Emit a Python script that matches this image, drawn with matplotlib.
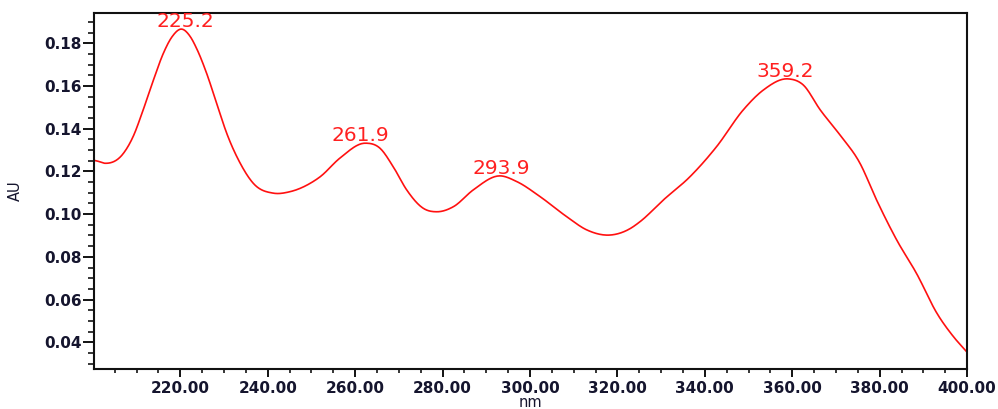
import numpy as np
import matplotlib
matplotlib.use("Agg")
import matplotlib.pyplot as plt
from matplotlib.ticker import MultipleLocator, FormatStrFormatter

# spectrum
wavelength = [200.2, 200.9, 202.8, 207.0, 209.2, 211.5, 213.8, 216.1, 218.1, 220.3,
              222.2, 223.8, 226.0, 228.3, 230.6, 233.7, 236.7, 241.3, 245.1, 249.7,
              252.0, 256.5, 262.3, 265.7, 268.7, 271.8, 275.6, 278.7, 282.5,
              287.0, 293.1, 297.0, 302.3, 308.4, 313.0, 318.3, 322.9, 325.2,
              330.5, 336.6, 342.7, 348.8, 353.4, 359.1, 362.5, 366.4, 370.9,
              375.5, 379.3, 383.9, 388.5, 393.1, 396.9, 399.9]
absorbance = [0.1252, 0.1249, 0.1238, 0.1285, 0.1363, 0.1488, 0.1625, 0.1752, 0.1830, 0.1866,
              0.1833, 0.1772, 0.1660, 0.1519, 0.1379, 0.1238, 0.1144, 0.1098, 0.1105, 0.1144,
              0.1175, 0.1262, 0.1332, 0.1308, 0.1222, 0.1113, 0.1027, 0.1011, 0.1035,
              0.1113, 0.1179, 0.1152, 0.1082, 0.0988, 0.0926, 0.0902, 0.0932, 0.0965,
              0.1066, 0.1175, 0.1316, 0.1488, 0.1581, 0.1633, 0.1605, 0.1488, 0.1371,
              0.1238, 0.1066, 0.0879, 0.0720, 0.0536, 0.0426, 0.0356]

# peak labels: position (nm, AU) and text
peak_nm = [221.2, 261.2, 293.5, 358.5]
peak_au = [0.1866, 0.1332, 0.1179, 0.1633]
peak_text = ["225.2", "261.9", "293.9", "359.2"]


def hermite_smooth(x, y, n_per=20):
    # cubic hermite through the read points, slopes from neighbours
    x = np.asarray(x, float)
    y = np.asarray(y, float)
    m = np.gradient(y, x)
    xs_all, ys_all = [], []
    for i in range(len(x) - 1):
        h = x[i + 1] - x[i]
        t = np.linspace(0, 1, n_per, endpoint=False)
        h00 = 2 * t**3 - 3 * t**2 + 1
        h10 = t**3 - 2 * t**2 + t
        h01 = -2 * t**3 + 3 * t**2
        h11 = t**3 - t**2
        xs_all.append(x[i] + t * h)
        ys_all.append(h00 * y[i] + h10 * h * m[i] + h01 * y[i + 1] + h11 * h * m[i + 1])
    xs_all.append([x[-1]])
    ys_all.append([y[-1]])
    return np.concatenate(xs_all), np.concatenate(ys_all)


xs, ys = hermite_smooth(wavelength, absorbance)

fig = plt.figure(figsize=(9.98, 4.09), dpi=100)
ax = fig.add_axes([0.0942, 0.0978, 0.8748, 0.8697])

ax.plot(xs, ys, color="#ff1010", lw=1.2)

for nm, au, txt in zip(peak_nm, peak_au, peak_text):
    ax.annotate(txt, xy=(nm, au), xytext=(0, 1.5), textcoords="offset points",
                ha="center", va="baseline", color="#ff2020", fontsize=14.5,
                family="DejaVu Sans")

ax.set_xlim(200.25, 400.0)
ax.set_ylim(0.0275, 0.194)

ax.xaxis.set_minor_locator(MultipleLocator(5))
ax.yaxis.set_major_locator(MultipleLocator(0.02))
ax.yaxis.set_minor_locator(MultipleLocator(0.005))
ax.xaxis.set_major_formatter(FormatStrFormatter("%.2f"))
ax.yaxis.set_major_formatter(FormatStrFormatter("%.2f"))

# reference labels start at 220
ax.set_xticks([220, 240, 260, 280, 300, 320, 340, 360, 380, 400])

lab_col = "#15152e"
ax.tick_params(axis="y", which="major", length=8, width=1.3, pad=1,
               labelsize=11, labelcolor=lab_col)
ax.tick_params(axis="y", which="minor", length=4.5, width=1.1)
ax.tick_params(axis="x", which="major", length=6, width=1.3, pad=3,
               labelsize=11, labelcolor=lab_col)
ax.tick_params(axis="x", which="minor", length=3, width=1.1)
for lab in ax.get_xticklabels() + ax.get_yticklabels():
    lab.set_fontweight("bold")
    lab.set_family("DejaVu Sans")

for sp in ax.spines.values():
    sp.set_linewidth(1.5)
    sp.set_color("#111111")

ax.set_ylabel("AU", fontsize=10.5, color=lab_col)
ax.yaxis.set_label_coords(-0.082, 0.5)
ax.set_xlabel("nm", fontsize=10.5, color=lab_col)
ax.xaxis.set_label_coords(0.5, -0.072)

fig.savefig("out.png", dpi=100)
